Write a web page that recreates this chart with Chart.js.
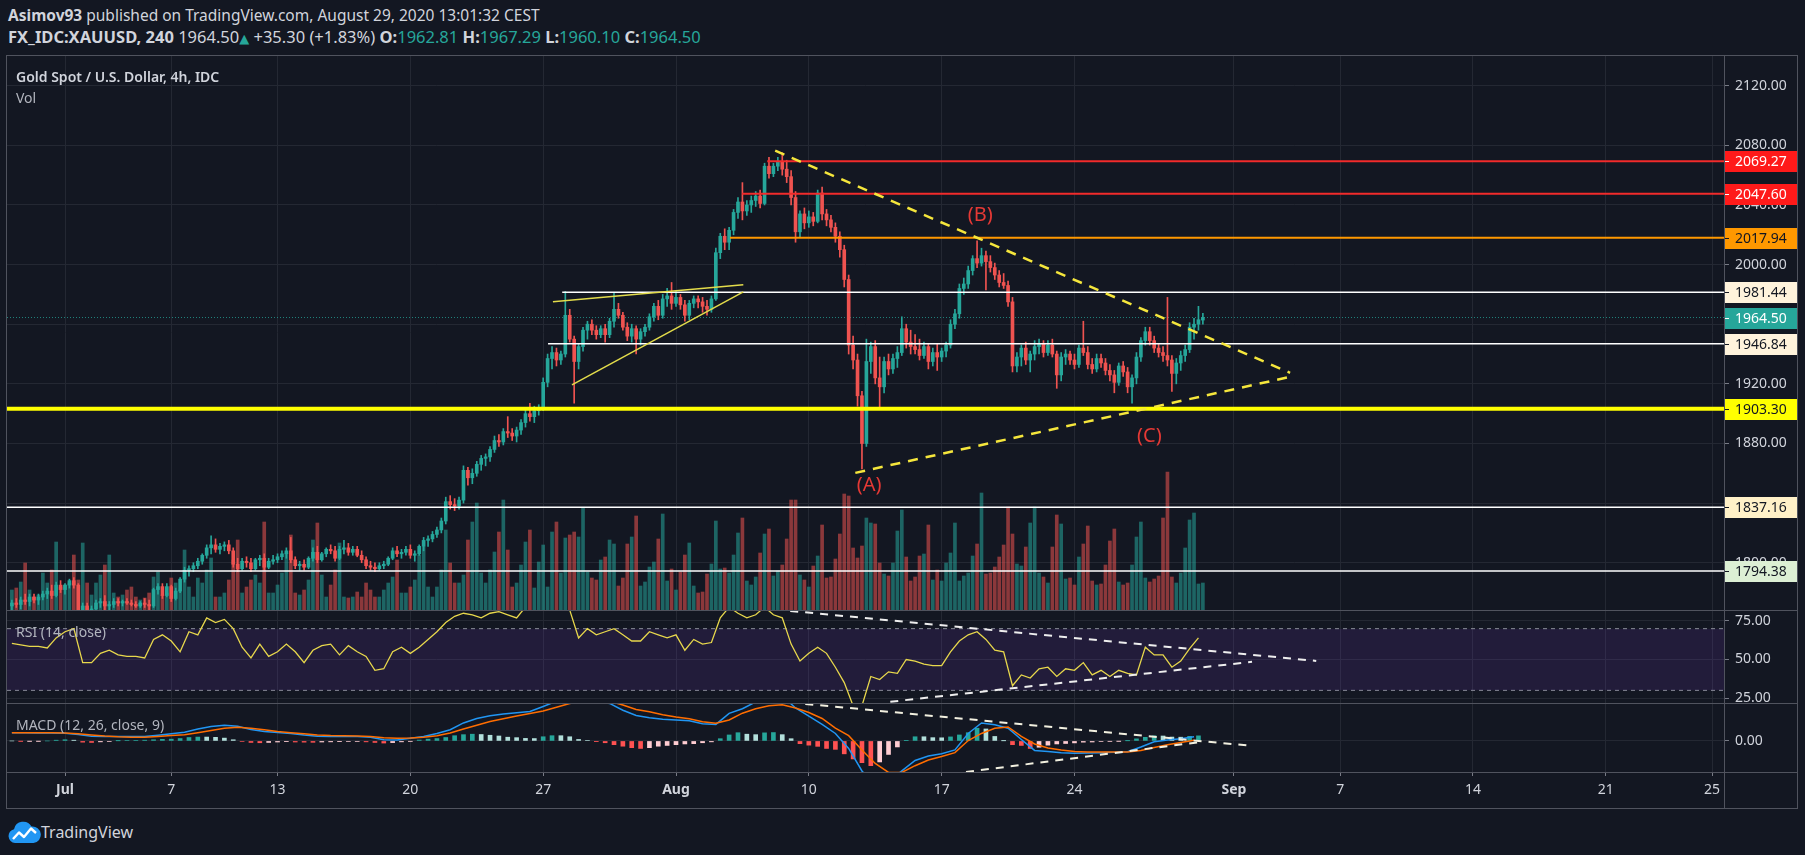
<!DOCTYPE html>
<html>
<head>
<meta charset="utf-8">
<title>XAUUSD 4h</title>
<script src="https://cdn.jsdelivr.net/npm/chart.js@4.4.0/dist/chart.umd.min.js"></script>
<style>
  body { margin: 0; width: 1805px; height: 855px; overflow: hidden; background: #131722;
         font-family: "Noto Sans", "DejaVu Sans", sans-serif; color: #d1d4dc; position: relative; }
  canvas, .ln, .txt { position: absolute; }
  .ln { background: #50535e; z-index: 5; }
  .txt { z-index: 6; white-space: nowrap; line-height: 20px; }
  .t { color: #26a69a; }
  #h1, #h2 { left: 8px; }
  #h1 { top: 5px; font-size: 15.5px; }
  #h2 { top: 27px; font-size: 16.5px; }
  .pane { left: 16px; font-size: 14px; color: #b2b5be; }
</style>
</head>
<body>
<div id="h1" class="txt"><b>Asimov93</b> published on TradingView.com, August 29, 2020 13:01:32 CEST</div>
<div id="h2" class="txt"><b>FX_IDC:XAUUSD, 240</b> 1964.50<span class="t" style="font-size:13px">▲</span> +35.30 (+1.83%) <b>O:</b><span class="t">1962.81</span> <b>H:</b><span class="t">1967.29</span> <b>L:</b><span class="t">1960.10</span> <b>C:</b><span class="t">1964.50</span></div>
<div class="txt pane" style="top:67px;color:#d1d4dc;font-weight:600">Gold Spot / U.S. Dollar, 4h, IDC</div>
<div class="txt pane" style="top:88px">Vol</div>
<div class="txt pane" style="top:622px">RSI (14, close)</div>
<div class="txt pane" style="top:715px">MACD (12, 26, close, 9)</div>

<canvas id="price" width="1790" height="555" style="left:7px;top:55px"></canvas>
<canvas id="rsi" width="1790" height="93" style="left:7px;top:610px"></canvas>
<canvas id="macd" width="1790" height="105" style="left:7px;top:703px"></canvas>

<div class="ln" style="left:6px;top:55px;width:1792px;height:1px"></div>
<div class="ln" style="left:6px;top:610px;width:1792px;height:1px"></div>
<div class="ln" style="left:6px;top:703px;width:1792px;height:1px"></div>
<div class="ln" style="left:6px;top:772px;width:1792px;height:1px"></div>
<div class="ln" style="left:6px;top:808px;width:1792px;height:1px"></div>
<div class="ln" style="left:6px;top:55px;width:1px;height:754px"></div>
<div class="ln" style="left:1797px;top:55px;width:1px;height:754px"></div>
<div class="ln" style="left:1724px;top:55px;width:1px;height:754px"></div>

<svg class="txt" style="position:absolute;left:7px;top:819px" width="34" height="26" viewBox="0 0 34 26">
  <path d="M8 24 A7 7 0 0 1 7 10.2 A9.5 9.5 0 0 1 24.5 7.5 A7.6 7.6 0 0 1 26.5 24 Z" fill="#2196f3"/>
  <polyline points="6,20 12,13.5 17,18 24,9.5 29,14" fill="none" stroke="#fff" stroke-width="2.4" stroke-linejoin="round"/>
</svg>
<div class="txt" style="left:41px;top:822px;font-size:16px">TradingView</div>

<script>
// time axis: one slot per 4h bar, bar 0 = first bar of Jun 29
const xTickIdx = [12, 36, 60, 90, 120, 150, 180, 210, 240, 276, 300, 330, 360, 384];
const xTickLabels = ['Jul', '7', '13', '20', '27', 'Aug', '10', '17', '24', 'Sep', '7', '14', '21', '25'];
const priceTicks = [1800, 1840, 1880, 1920, 1960, 2000, 2040, 2080, 2120];

// horizontal levels drawn by the author (price, first bar of the line)
const levelPrices = [2069.27, 2047.60, 2017.94, 1981.44, 1946.84, 1903.30, 1837.16, 1794.38];
const levelStart = [170.6, 164.9, 162.2, 124.3, 121.1, -1.1, -1.1, -1.1];
const lastPrice = 1964.50;

// trend lines: [bar, value] pairs
const wedgeUpper = [[122.2, 1975.0], [165.2, 1986.4]];
const wedgeLower = [[126.5, 1919.3], [165.2, 1981.7]];
const triTop = [[172.4, 2076.4], [288.7, 1927.4]];
const triBottom = [[190.5, 1860.3], [288.7, 1924.7]];
const rsiTop = [[175.8, 81.5], [294.6, 49.1]];
const rsiBottom = [[198.4, 22.6], [280.1, 48.5]];
const macdTop = [[179.2, 24.7], [280.1, -3.3]];
const macdBottom = [[215.5, -20.7], [268.4, -0.7]];

const waveText = ['(A)', '(B)', '(C)'];
const waveIdx = [193.6, 218.7, 256.9];
const wavePrice = [1852.2, 2032.8, 1885.0];

// 4h candles [open, high, low, close], one trading day per line
const ohlc = [
  [1771,1775,1768,1773],[1773,1776,1770,1772],[1772,1777,1769,1775],[1775,1779,1772,1774],[1774,1779,1771,1777],[1777,1779,1773,1775],
  [1775,1779,1772,1777],[1777,1781,1775,1779],[1779,1783,1776,1781],[1781,1785,1776,1778],[1778,1787,1777,1785],[1785,1788,1780,1782],
  [1782,1786,1779,1785],[1785,1789,1783,1788],[1788,1790,1783,1785],[1785,1786,1763,1767],[1767,1773,1762,1771],[1771,1773,1765,1768],
  [1768,1771,1762,1769],[1769,1775,1767,1773],[1773,1776,1770,1774],[1774,1778,1768,1771],[1771,1774,1767,1772],[1772,1776,1770,1774],
  [1774,1776,1771,1773],[1773,1775,1771,1774],[1774,1776,1772,1773],[1773,1775,1771,1772],[1772,1774,1770,1771],[1771,1774,1770,1773],
  [1773,1776,1770,1772],[1772,1775,1768,1771],[1771,1783,1770,1782],[1782,1786,1779,1784],[1784,1786,1776,1778],[1778,1786,1777,1784],
  [1784,1785,1774,1776],[1776,1783,1775,1781],[1781,1790,1780,1789],[1789,1797,1787,1795],[1795,1798,1791,1796],[1796,1800,1794,1798],
  [1798,1803,1796,1801],[1801,1806,1799,1805],[1805,1812,1803,1810],[1810,1818,1806,1812],[1812,1816,1807,1809],[1809,1813,1806,1811],
  [1811,1814,1808,1812],[1812,1815,1806,1808],[1808,1810,1797,1799],[1799,1803,1794,1796],[1796,1803,1795,1801],[1801,1804,1797,1800],
  [1800,1803,1794,1796],[1796,1803,1795,1802],[1802,1805,1798,1803],[1803,1806,1795,1797],[1797,1803,1796,1801],[1801,1805,1799,1802],
  [1802,1806,1800,1804],[1804,1808,1802,1806],[1806,1810,1803,1808],[1808,1817,1800,1802],[1802,1804,1796,1798],[1798,1801,1795,1799],
  [1799,1802,1795,1797],[1797,1804,1796,1803],[1803,1810,1801,1807],[1807,1811,1800,1802],[1802,1807,1801,1806],[1806,1810,1804,1809],
  [1809,1812,1806,1808],[1808,1811,1801,1803],[1803,1811,1802,1809],[1809,1815,1806,1810],[1810,1813,1805,1807],[1807,1811,1805,1809],
  [1809,1811,1804,1805],[1805,1808,1800,1802],[1802,1804,1796,1798],[1798,1801,1795,1797],[1797,1800,1794,1796],[1796,1800,1795,1798],
  [1798,1801,1796,1799],[1799,1804,1798,1803],[1803,1810,1802,1808],[1808,1811,1804,1806],[1806,1809,1803,1807],[1807,1811,1805,1809],
  [1809,1812,1803,1805],[1805,1808,1801,1806],[1806,1812,1805,1811],[1811,1817,1808,1815],[1815,1818,1811,1816],[1816,1821,1814,1819],
  [1819,1824,1817,1822],[1822,1830,1820,1828],[1828,1844,1826,1841],[1841,1845,1836,1839],[1839,1843,1835,1838],[1838,1844,1836,1842],
  [1842,1865,1840,1862],[1862,1864,1852,1857],[1857,1863,1853,1860],[1860,1868,1858,1866],[1866,1872,1862,1870],[1870,1873,1865,1871],
  [1871,1878,1868,1876],[1876,1885,1874,1882],[1882,1886,1878,1881],[1881,1890,1879,1888],[1888,1898,1884,1887],[1887,1890,1882,1885],
  [1885,1891,1881,1889],[1889,1896,1886,1894],[1894,1903,1891,1900],[1900,1907,1895,1898],[1898,1905,1894,1902],[1902,1906,1899,1904],
  [1904,1924,1902,1921],[1921,1940,1918,1937],[1937,1945,1930,1941],[1941,1944,1932,1936],[1936,1942,1933,1940],[1940,1982,1938,1966],
  [1966,1970,1948,1950],[1950,1952,1907,1935],[1935,1947,1930,1945],[1945,1958,1942,1956],[1956,1962,1950,1960],[1960,1963,1953,1956],
  [1956,1959,1950,1953],[1953,1959,1951,1957],[1957,1960,1948,1953],[1953,1964,1951,1962],[1962,1981,1958,1970],[1970,1974,1964,1966],
  [1966,1968,1956,1958],[1958,1961,1949,1952],[1952,1960,1948,1957],[1957,1959,1940,1950],[1950,1957,1946,1955],[1955,1960,1952,1958],
  [1958,1967,1956,1965],[1965,1974,1962,1972],[1972,1976,1963,1966],[1966,1980,1964,1977],[1977,1984,1972,1979],[1979,1988,1970,1974],
  [1974,1982,1972,1978],[1978,1980,1970,1973],[1973,1976,1962,1966],[1966,1976,1963,1974],[1974,1979,1971,1977],[1977,1979,1971,1975],
  [1975,1978,1968,1972],[1972,1976,1966,1970],[1970,1979,1968,1977],[1977,2011,1976,2008],[2008,2021,2004,2019],[2019,2024,2010,2015],
  [2015,2025,2010,2023],[2023,2037,2020,2035],[2035,2045,2031,2042],[2042,2055,2030,2036],[2036,2043,2033,2040],[2040,2046,2035,2043],
  [2043,2049,2039,2046],[2046,2050,2038,2041],[2041,2068,2040,2066],[2066,2072,2058,2061],[2061,2068,2059,2066],[2066,2072,2063,2069],
  [2069,2075,2060,2064],[2064,2070,2055,2059],[2059,2063,2040,2045],[2045,2049,2015,2022],[2022,2036,2018,2034],[2034,2038,2024,2028],
  [2028,2036,2025,2032],[2032,2035,2026,2029],[2029,2050,2028,2048],[2048,2052,2030,2034],[2034,2037,2026,2030],[2030,2033,2022,2025],
  [2025,2028,2015,2019],[2019,2022,2005,2010],[2010,2013,1985,1990],[1990,1993,1940,1946],[1946,1952,1930,1936],[1936,1940,1905,1912],
  [1912,1915,1863,1880],[1880,1950,1878,1935],[1935,1948,1927,1945],[1945,1949,1920,1924],[1924,1938,1903,1918],[1918,1938,1914,1935],
  [1935,1940,1926,1930],[1930,1940,1927,1937],[1937,1945,1931,1941],[1941,1965,1939,1957],[1957,1960,1944,1948],[1948,1956,1940,1945],
  [1945,1953,1940,1943],[1943,1950,1936,1939],[1939,1948,1937,1945],[1945,1947,1930,1935],[1935,1944,1932,1941],[1941,1947,1929,1938],
  [1938,1944,1935,1942],[1942,1948,1938,1946],[1946,1963,1944,1960],[1960,1970,1957,1967],[1967,1987,1964,1984],[1984,1991,1980,1987],
  [1987,1999,1984,1996],[1996,2006,1993,2004],[2004,2016,1998,2001],[2001,2011,1999,2006],[2006,2009,1983,2002],[2002,2006,1995,1998],
  [1998,2001,1990,1993],[1993,1996,1985,1988],[1988,1994,1984,1986],[1986,1989,1972,1975],[1975,1978,1928,1932],[1932,1941,1928,1938],
  [1938,1946,1932,1944],[1944,1948,1933,1936],[1936,1942,1928,1940],[1940,1949,1936,1945],[1945,1950,1940,1947],[1947,1949,1938,1941],
  [1941,1949,1939,1946],[1946,1950,1938,1940],[1940,1942,1917,1926],[1926,1941,1922,1938],[1938,1943,1933,1940],[1940,1942,1933,1936],
  [1936,1940,1930,1933],[1933,1946,1931,1944],[1944,1962,1939,1941],[1941,1945,1930,1933],[1933,1937,1927,1930],[1930,1940,1928,1937],
  [1937,1940,1931,1934],[1934,1937,1926,1929],[1929,1933,1922,1926],[1926,1929,1914,1921],[1921,1934,1919,1932],[1932,1935,1925,1928],
  [1928,1931,1914,1918],[1918,1926,1907,1924],[1924,1941,1920,1938],[1938,1951,1935,1949],[1949,1958,1946,1955],[1955,1958,1946,1949],
  [1949,1952,1941,1944],[1944,1947,1938,1941],[1941,1945,1935,1939],[1939,1978,1932,1936],[1936,1939,1915,1927],[1927,1937,1920,1934],
  [1934,1942,1929,1939],[1939,1946,1935,1943],[1943,1961,1941,1958],[1958,1964,1950,1960],[1960,1972,1956,1963],[1962.81,1967.29,1960.10,1964.50]
];

// volume per bar (arbitrary units)
const volumes = [
  20,22,28,47,20,13,15,37,27,40, 68,23,25,27,55,30,67,27,15,27, 35,45,55,17,13,15,20,23,13,10,
  12,17,33,38,15,17,32,27,20,60, 23,13,32,27,40,52,13,13,17,30, 50,70,17,23,30,35,27,88,17,17,
  25,37,57,75,17,15,20,30,70,87, 35,13,25,40,67,13,12,13,18,13, 27,20,13,13,20,27,33,50,17,17,
  23,30,55,63,23,13,23,40,80,47, 27,27,35,70,88,107,37,27,40,58, 78,110,60,23,27,45,68,80,22,48,
  65,23,78,88,
  37,72,75,78,73,102,38,32,30,50, 53,70,66,24,32,66,73,94,24,28, 43,48,71,96,29,41,20,38,55,67,
  24,17,18,36,46,89,41,42,37,55, 77,92,29,25,33,57,76,81,34,39, 45,71,110,110,35,30,23,44,54,85,
  32,33,51,76,116,114,62,52,64,92, 87,86,47,36,34,47,79,100,53,29, 33,54,56,85,30,40,29,47,57,87,
  29,34,37,54,66,117,36,37,43,53, 65,103,76,46,44,63,87,103,37,33, 27,63,95,86,31,32,25,53,66,84,
  29,25,26,45,69,81,28,25,27,45, 73,88,32,28,31,34,92,138,33,27, 37,62,90,97,26,27
];

// RSI(14), one reading every 2nd bar
const rsi = [
  60.5,59.5,58.5,58.5,57.5,64,68,70,48,48, 54,56,53,52,52,51,63,66,62,55,
  68,66,77,74,76,70,58,51,60,52, 55,60,55,48,56,59,60,53,59,55,
  52,43,44,55,58,54,58,63,68,74, 78,80,79,77,80,81,79,77,84,85,
  83,84,85,82,64,70,66,68,70,66, 62,62,68,66,64,66,56,63,60,61,
  77,84,80,77,79,84,79,77,60,49, 54,58,54,45,35,20,20,39,37,42,
  41,50,49,47,46,46,55,62,66,68, 63,56,55,33,40,38,44,45,39,44,
  43,48,40,43,39,43,41,40,58,53, 53,45,49,57,64
];

// MACD(12,26,9): lines every 3rd bar, histogram every 2nd bar
const macdLine = [
  5.5,5.4,5.3,5.3,5.2,4.3,3.2,2.9,2.9,2.9, 2.9,3.8,4.8,5.8,8,9.6,10.5,9.8,7.6,6.3,
  5.7,5,4,3.2,3,2.9,2.9,2.5,0.8,0.7, 1.8,3,5,7.5,12,15,16.8,18,18.8,19.6,
  23,26.5,28,27,26.5,25,20.5,17,15.5,14.5, 14,13.5,11.5,11,18.4,21.5,26,30,30,22,
  16.5,11,5,-5,-20,-30,-27,-20,-13,-10, -8.5,-6,5,12,10.8,8.5,1,-6.3,-7,-7.8,
  -8.2,-8,-7.8,-7.5,-7.2,-4,-0.5,0.7,1.5,2.8
];
const signalLine = [
  5.5,5.5,5.4,5.4,5.3,4.8,4,3.3,2.8,2.5, 2.4,3,3.6,4.2,5.5,7,8.5,9.1,8.5,7.4,
  6.3,5.5,4.8,4,3.6,3.4,3.3,3,2.2,1.8, 2,2.4,3.5,5.3,8,10.5,13,14.8,16.6,18.3,
  20,22.5,25,26.5,27,26.5,24,21,19.5,17.5, 16,14.8,12.8,11.8,14,18.5,21.5,23.5,24.2,22,
  19,15,8.6,3.5,-6,-15,-21,-21,-16.5,-12.7, -10.4,-7.8,0.3,5,8.5,9.3,3,-2,-4.7,-6,
  -7,-7.3,-7.4,-7.4,-7.3,-6.4,-4.3,-2.6,-1.1,0.4
];
const histogram = [
  0,-0.1,-0.1,-0.1,0,0.5,0.8,0.5,-0.8,-1, -0.6,-0.4,0.1,0.3,0.4,0.5,0.8,1.1,1.2,1.6,
  2.3,2.6,2.6,2.4,1.9,0.8,-0.3,-1,-1.2,-1, -0.7,-0.5,-0.7,-0.8,-0.9,-0.7,-0.6,-0.5,-0.4,-0.4,
  -0.6,-1,-1.4,-1.1,-0.6,-0.2,0.6,1.2,1.6,2.3, 3.5,4.2,4.5,4.3,3.8,3.3,2.5,2.2,1.7,1.6,
  2.8,3.5,3.5,2.8,1,0.3,-0.5,-1.2,-2.5,-3.5, -4.5,-5,-4.5,-3.5,-3,-2.5,-2,-1.8,-1.2,-0.6,
  1.5,4,5.5,4.5,4.2,5.4,5.6,4.2,1.5,-1.8, -2.8,-3.6,-5,-5.6,-8.6,-12,-14.5,-16.5,-14,-9,
  -4,0.2,2.8,2.8,2.2,2.1,2.7,4,5.5,8.5, 8,3,0.1,-2.5,-3,-5,-4.2,-2.8,-2,-1.7,
  -1.3,-0.8,-0.7,-0.4,-0.2,-0.1,0.1,1.4,2.4,3.4, 3.3,2.6,2.5,3.1,3.4
];
const rsiLevels = [70, 30];

// ---- styles ----
const UP = '#26a69a', DN = '#ef5350', GRID = '#242833', TICK = '#787b86';
const tagBg = ['#ff1a1a', '#ff1a1a', '#ff9800', '#fff3dc', '#fff3dc', '#ffff00', '#fff1c8', '#dcefd4'];
const tagFg = ['#ffffff', '#ffffff', '#131722', '#131722', '#131722', '#131722', '#131722', '#131722'];
const levelColor = ['#f22b2b', '#f22b2b', '#ff9800', '#ffffff', '#ffffff', '#ffff00', '#ffffff', '#ffffff'];
const levelWidth = [2, 2, 2, 1.5, 1.5, 4, 1.5, 1.5];

Chart.defaults.font.family = '"Noto Sans", "DejaVu Sans", sans-serif';
Chart.defaults.font.size = 14;
Chart.defaults.color = '#d1d4dc';
Chart.defaults.animation = false;

const X_MIN = -1.1, X_MAX = 386.7;
const isUp = i => ohlc[i][3] >= ohlc[i][0];

function xScale(labels) {
  return {
    type: 'linear', min: X_MIN, max: X_MAX, offset: false,
    afterBuildTicks: s => { s.ticks = xTickIdx.map(v => ({ value: v })); },
    afterFit: s => { s.height = labels ? 36 : 0; s.paddingLeft = 0; s.paddingRight = 0; },
    grid: { color: GRID, offset: false, drawTicks: labels, tickLength: 4, tickColor: TICK },
    border: { display: false },
    ticks: {
      display: labels, autoSkip: false, maxRotation: 0, padding: 6, color: '#d1d4dc',
      font: c => ({ size: 14, weight: /^[A-Z]/.test(xTickLabels[c.index] || '') ? 'bold' : 'normal' }),
      callback: v => xTickLabels[xTickIdx.indexOf(v)]
    }
  };
}
function yScale(min, max, ticks) {
  return {
    position: 'right', min, max, beginAtZero: false,
    afterBuildTicks: s => { s.ticks = ticks.map(v => ({ value: v })); },
    // fixed axis width, and no extra room reserved for the end labels
    afterFit: s => { s.width = 73; s.paddingTop = 0; s.paddingBottom = 0; },
    grid: { color: GRID, tickLength: 5, tickColor: TICK },
    border: { display: false },
    ticks: { padding: 6, color: '#d1d4dc', autoSkip: false, callback: v => v.toFixed(2) }
  };
}
const seg = (pts, color, width, dash, order, axis) => ({
  type: 'line', data: pts.map(p => ({ x: p[0], y: p[1] })), yAxisID: axis || 'y',
  borderColor: color, borderWidth: width, borderDash: dash, pointRadius: 0, order
});
const baseOptions = {
  responsive: false, devicePixelRatio: 1, events: [],
  layout: { padding: 0, autoPadding: false },
  plugins: { legend: { display: false }, tooltip: { enabled: false } }
};

// price tags on the right axis
const levelTags = {
  id: 'levelTags',
  afterDraw(chart) {
    const { ctx, chartArea, scales: { y } } = chart;
    const tags = levelPrices.map((p, k) => ({ p, bg: tagBg[k], fg: tagFg[k] }));
    tags.push({ p: lastPrice, bg: UP, fg: '#ffffff' });
    ctx.save();
    ctx.font = '14px "Noto Sans", sans-serif';
    ctx.textBaseline = 'middle';
    tags.forEach(t => {
      const py = Math.round(y.getPixelForValue(t.p));
      ctx.fillStyle = t.bg;
      ctx.fillRect(chartArea.right, py - 10, 73, 21);
      ctx.fillStyle = t.fg;
      ctx.fillRect(chartArea.right, py, 5, 1);
      ctx.fillText(t.p.toFixed(2), chartArea.right + 11, py + 1);
    });
    ctx.restore();
  }
};
// (A) (B) (C) wave labels
const waveLabels = {
  id: 'waveLabels',
  afterDatasetsDraw(chart) {
    const { ctx, scales: { x, y } } = chart;
    ctx.save();
    ctx.font = '20px "Noto Sans", sans-serif';
    ctx.fillStyle = '#e53935';
    ctx.textAlign = 'center';
    ctx.textBaseline = 'middle';
    waveText.forEach((t, k) => ctx.fillText(t, x.getPixelForValue(waveIdx[k]), y.getPixelForValue(wavePrice[k])));
    ctx.restore();
  }
};

// ---- price + volume pane ----
const priceSets = [
  {
    type: 'bar', yAxisID: 'yv', order: 60, grouped: false, barThickness: 3,
    data: volumes.map((v, i) => ({ x: i, y: v })),
    backgroundColor: c => isUp(c.dataIndex) ? 'rgba(38,166,154,0.55)' : 'rgba(239,83,80,0.55)'
  },
  seg([[X_MIN, lastPrice], [X_MAX, lastPrice]], 'rgba(38,166,154,0.75)', 1, [1, 2], 55),
  {
    type: 'bar', yAxisID: 'y', order: 40, grouped: false, barThickness: 1,
    data: ohlc.map((c, i) => ({ x: i, y: [c[2], c[1]] })),
    backgroundColor: c => isUp(c.dataIndex) ? UP : DN
  },
  {
    type: 'bar', yAxisID: 'y', order: 30, grouped: false, barThickness: 3, minBarLength: 1,
    data: ohlc.map((c, i) => ({ x: i, y: [c[0], c[3]] })),
    backgroundColor: c => isUp(c.dataIndex) ? UP : DN
  }
];
levelPrices.forEach((p, k) => priceSets.push(seg([[levelStart[k], p], [X_MAX, p]], levelColor[k], levelWidth[k], [], 20)));
priceSets.push(seg(wedgeUpper, '#e3dc4b', 1.5, [], 10));
priceSets.push(seg(wedgeLower, '#e3dc4b', 1.5, [], 10));
priceSets.push(seg(triTop, '#f5e63c', 2.5, [10, 8], 10));
priceSets.push(seg(triBottom, '#f5e63c', 2.5, [10, 8], 10));

new Chart(document.getElementById('price'), {
  type: 'bar',
  data: { datasets: priceSets },
  options: Object.assign({}, baseOptions, {
    scales: {
      x: xScale(false),
      y: yScale(1768.3, 2140.6, priceTicks),
      yv: { display: false, min: 0, max: 555 }
    }
  }),
  plugins: [waveLabels, levelTags]
});

// ---- RSI pane ----
new Chart(document.getElementById('rsi'), {
  type: 'line',
  data: {
    datasets: [
      { data: [{ x: X_MIN, y: rsiLevels[0] }, { x: X_MAX, y: rsiLevels[0] }], borderColor: '#8c8f99', borderWidth: 1,
        borderDash: [4, 4], pointRadius: 0, fill: '+1', backgroundColor: 'rgba(120,60,200,0.15)', order: 5 },
      { data: [{ x: X_MIN, y: rsiLevels[1] }, { x: X_MAX, y: rsiLevels[1] }], borderColor: '#8c8f99', borderWidth: 1,
        borderDash: [4, 4], pointRadius: 0, fill: false, order: 5 },
      { data: rsi.map((v, k) => ({ x: k * 2, y: v })), borderColor: '#e8d84c', borderWidth: 1.3, pointRadius: 0, fill: false, order: 2 },
      seg(rsiTop, '#eeeeee', 2, [8, 7], 1),
      seg(rsiBottom, '#eeeeee', 2, [8, 7], 1)
    ]
  },
  options: Object.assign({}, baseOptions, {
    scales: { x: xScale(false), y: yScale(21.8, 82.1, [25, 50, 75]) }
  })
});

// ---- MACD pane ----
new Chart(document.getElementById('macd'), {
  type: 'bar',
  data: {
    datasets: [
      {
        type: 'bar', order: 5, grouped: false, barThickness: 4,
        data: histogram.map((v, k) => ({ x: k * 2, y: v })),
        backgroundColor: c => {
          const k = c.dataIndex, v = histogram[k], p = k ? histogram[k - 1] : v;
          return v >= 0 ? (v > p ? '#26a69a' : '#b2dfdb') : (v < p ? '#ff5252' : '#ffcdd2');
        }
      },
      { type: 'line', order: 3, data: macdLine.map((v, k) => ({ x: k * 3, y: v })), borderColor: '#2196f3', borderWidth: 1.5, pointRadius: 0 },
      { type: 'line', order: 2, data: signalLine.map((v, k) => ({ x: k * 3, y: v })), borderColor: '#ff6d00', borderWidth: 1.5, pointRadius: 0 },
      seg(macdTop, '#f2f0e0', 2, [8, 7], 1),
      seg(macdBottom, '#f2f0e0', 2, [8, 7], 1)
    ]
  },
  options: Object.assign({}, baseOptions, {
    scales: { x: xScale(true), y: yScale(-20.7, 25.3, [0]) }
  })
});
</script>
</body>
</html>
